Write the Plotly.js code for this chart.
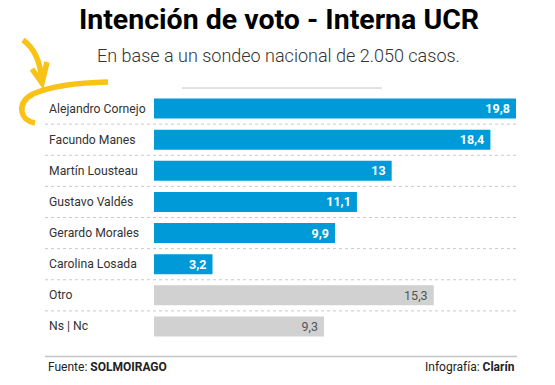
<!DOCTYPE html>
<html>
<head>
<meta charset="utf-8">
<script src="https://cdn.plot.ly/plotly-3.0.1.min.js"></script>
<style>html,body{margin:0;padding:0;background:#fff;}#chart{width:555px;height:385px;}</style>
</head>
<body>
<div id="chart"></div>
<script>
// Data
const categories = ["Alejandro Cornejo","Facundo Manes","Martín Lousteau","Gustavo Valdés","Gerardo Morales","Carolina Losada","Otro","Ns | Nc"];
const candidates = ["Alejandro Cornejo","Facundo Manes","Martín Lousteau","Gustavo Valdés","Gerardo Morales","Carolina Losada"];
const candidateValues = [19.8, 18.4, 13, 11.1, 9.9, 3.2];
const otherCats = ["Otro","Ns | Nc"];
const otherValues = [15.3, 9.3];

const Wd = 555, Ht = 385, L = 154, R = 39, T = 93, B = 43;
const plotW = Wd - L - R, plotH = Ht - T - B;
const px = x => (x - L) / plotW;
const py = y => (Ht - B - y) / plotH;
const fmt = v => String(v).replace('.', ',') + '\u00a0';

const blue = '#009ad9', gray = '#d1d1d1';
const maxV = Math.max(...candidateValues, ...otherValues);

const traces = [
  {
    type: 'bar', orientation: 'h', y: candidates, x: candidateValues,
    marker: {color: blue}, text: candidateValues.map(fmt),
    textposition: 'inside', insidetextanchor: 'end', constraintext: 'none',
    textfont: {family: 'Roboto', size: 12.5, color: '#ffffff', weight: 700},
    hoverinfo: 'none', cliponaxis: false
  },
  {
    type: 'bar', orientation: 'h', y: otherCats, x: otherValues,
    marker: {color: gray}, text: otherValues.map(fmt),
    textposition: 'inside', insidetextanchor: 'end', constraintext: 'none',
    textfont: {family: 'Roboto', size: 12.5, color: '#555555'},
    hoverinfo: 'none', cliponaxis: false
  }
];

const shapes = [];
for (let i = 0; i < categories.length - 1; i++) {
  shapes.push({type: 'line', xref: 'paper', yref: 'y', x0: px(45), x1: px(516), y0: i + 0.5, y1: i + 0.5,
    line: {color: '#c8c8c8', width: 1, dash: 'dot'}});
}
// rule under subtitle
shapes.push({type: 'line', xref: 'paper', yref: 'paper', x0: px(182), x1: px(382), y0: py(88), y1: py(88),
  line: {color: '#c4c4c4', width: 1}});
// footer rule
shapes.push({type: 'line', xref: 'paper', yref: 'paper', x0: px(45), x1: px(517), y0: py(356.5), y1: py(356.5),
  line: {color: '#c4c4c4', width: 1.5}});

// hand-drawn yellow arrow
const P = (x, y) => px(x).toFixed(4) + ',' + py(y).toFixed(4);
const arrowPath1 = 'M' + P(23, 40) + ' Q' + P(40, 52) + ' ' + P(42, 82);
const arrowHead = 'M' + P(32, 69) + ' L' + P(42, 83) + ' L' + P(47, 62);
const arrowPath2 = 'M' + P(108, 82) + ' Q' + P(58, 83) + ' ' + P(33, 94) + ' Q' + P(20, 101) + ' ' + P(22, 112) + ' Q' + P(24, 121) + ' ' + P(35, 123);
[arrowPath1, arrowHead, arrowPath2].forEach(p => shapes.push({type: 'path', xref: 'paper', yref: 'paper', path: p,
  line: {color: '#f8c217', width: 5.5}}));

const annotations = categories.map(c => ({
  xref: 'paper', yref: 'y', x: px(47), y: c, xanchor: 'left', yanchor: 'middle', text: c, showarrow: false,
  font: {family: 'Roboto', size: 12.2, color: '#333333'}
}));
annotations.push({xref: 'paper', yref: 'paper', x: (278 - L) / plotW, y: py(56), xanchor: 'center', yanchor: 'middle',
  text: 'En base a un sondeo nacional de 2.050 casos.', showarrow: false,
  font: {family: 'Roboto', size: 18, color: '#333333', weight: 300}});
annotations.push({xref: 'paper', yref: 'paper', x: px(46), y: py(367), xanchor: 'left', yanchor: 'middle',
  text: 'Fuente: <b>SOLMOIRAGO</b>', showarrow: false, font: {family: 'Roboto', size: 12, color: '#222222'}});
annotations.push({xref: 'paper', yref: 'paper', x: px(517), y: py(367), xanchor: 'right', yanchor: 'middle',
  text: 'Infografía: <b>Clarín</b>', showarrow: false, font: {family: 'Roboto', size: 12, color: '#222222'}});

const layout = {
  width: Wd, height: Ht,
  margin: {l: L, r: R, t: T, b: B, pad: 0},
  paper_bgcolor: '#ffffff', plot_bgcolor: '#ffffff',
  title: {text: '<b>Intención de voto - Interna UCR</b>', xref: 'container', x: 279 / Wd, xanchor: 'center',
    yref: 'container', y: 1 - 19 / Ht, yanchor: 'middle',
    font: {family: 'Roboto', size: 28.5, color: '#000000', weight: 900}},
  barmode: 'overlay', bargap: 0.355, showlegend: false,
  xaxis: {range: [0, maxV], visible: false, fixedrange: true},
  yaxis: {type: 'category', categoryorder: 'array', categoryarray: categories, autorange: 'reversed',
    showticklabels: false, showgrid: false, zeroline: false, showline: false, ticks: '', fixedrange: true},
  shapes: shapes, annotations: annotations,
  font: {family: 'Roboto'}
};

Plotly.newPlot('chart', traces, layout, {displayModeBar: false, staticPlot: true});
</script>
</body>
</html>
